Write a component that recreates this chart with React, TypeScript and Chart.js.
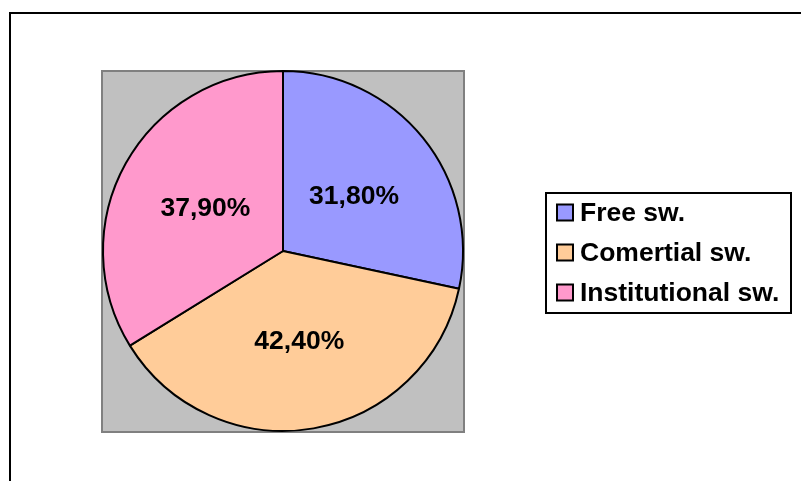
import React, { useEffect, useRef } from "react";
import { Chart, registerables } from "chart.js";

Chart.register(...registerables);

const categories = ["Free sw.", "Comertial sw.", "Institutional sw."];
const shares = [31.8, 42.4, 37.9];
const sliceColors = ["#9999FF", "#FFCC99", "#FF99CC"];

const FONT = "bold 26.5px 'Liberation Sans', Arial, sans-serif";

const fmt = (v: number) => v.toFixed(2).replace(".", ",") + "%";

const decorPlugin = {
  id: "decor",
  beforeDraw(chart: any) {
    const ctx = chart.ctx as CanvasRenderingContext2D;
    const { left, top, right, bottom } = chart.chartArea;
    ctx.save();
    ctx.fillStyle = "#ffffff";
    ctx.fillRect(0, 0, chart.width, chart.height);
    // outer frame
    ctx.strokeStyle = "#000000";
    ctx.lineWidth = 2;
    ctx.beginPath();
    ctx.moveTo(10, chart.height + 5);
    ctx.lineTo(10, 13);
    ctx.lineTo(chart.width + 5, 13);
    ctx.stroke();
    // plot area
    ctx.fillStyle = "#C0C0C0";
    ctx.fillRect(left - 1, top, right - left + 2, bottom - top + 1);
    ctx.strokeStyle = "#808080";
    ctx.lineWidth = 2;
    ctx.strokeRect(left, top + 1, right - left, bottom - top - 1);
    ctx.restore();
  },
  afterDraw(chart: any) {
    const ctx = chart.ctx as CanvasRenderingContext2D;
    const meta = chart.getDatasetMeta(0);
    ctx.save();
    ctx.font = FONT;
    ctx.fillStyle = "#000000";
    ctx.textAlign = "center";
    ctx.textBaseline = "middle";
    meta.data.forEach((arc: any, i: number) => {
      const p = arc.tooltipPosition();
      ctx.fillText(fmt(shares[i]), p.x + 1, p.y + 2);
    });
    // legend
    const lx = 546, ly = 193, lw = 245, lh = 120;
    ctx.lineWidth = 2;
    ctx.strokeStyle = "#000000";
    ctx.fillStyle = "#ffffff";
    ctx.fillRect(lx, ly, lw, lh);
    ctx.strokeRect(lx, ly, lw, lh);
    ctx.textAlign = "left";
    categories.forEach((c, i) => {
      const cy = 212.5 + i * 40;
      ctx.fillStyle = sliceColors[i];
      ctx.fillRect(557, cy - 8, 16, 16);
      ctx.strokeStyle = "#000000";
      ctx.lineWidth = 2;
      ctx.strokeRect(557, cy - 8, 16, 16);
      ctx.fillStyle = "#000000";
      ctx.fillText(c, 580, cy + 1);
    });
    ctx.restore();
  },
};

export default function App() {
  const ref = useRef<HTMLCanvasElement>(null);
  useEffect(() => {
    if (!ref.current) return;
    const chart = new Chart(ref.current, {
      type: "pie",
      data: {
        labels: categories,
        datasets: [
          {
            data: shares,
            backgroundColor: sliceColors,
            borderColor: "#000000",
            borderWidth: 2,
          },
        ],
      },
      options: {
        animation: false,
        responsive: false,
        events: [],
        layout: { padding: { left: 102, right: 337, top: 70, bottom: 49 } },
        plugins: {
          legend: { display: false },
          tooltip: { enabled: false },
        },
      },
      plugins: [decorPlugin],
    });
    return () => chart.destroy();
  }, []);
  return (
    <div style={{ position: "absolute", left: 0, top: 0, width: 801, height: 481 }}>
      <canvas ref={ref} width={801} height={481} style={{ width: 801, height: 481, display: "block" }} />
    </div>
  );
}
